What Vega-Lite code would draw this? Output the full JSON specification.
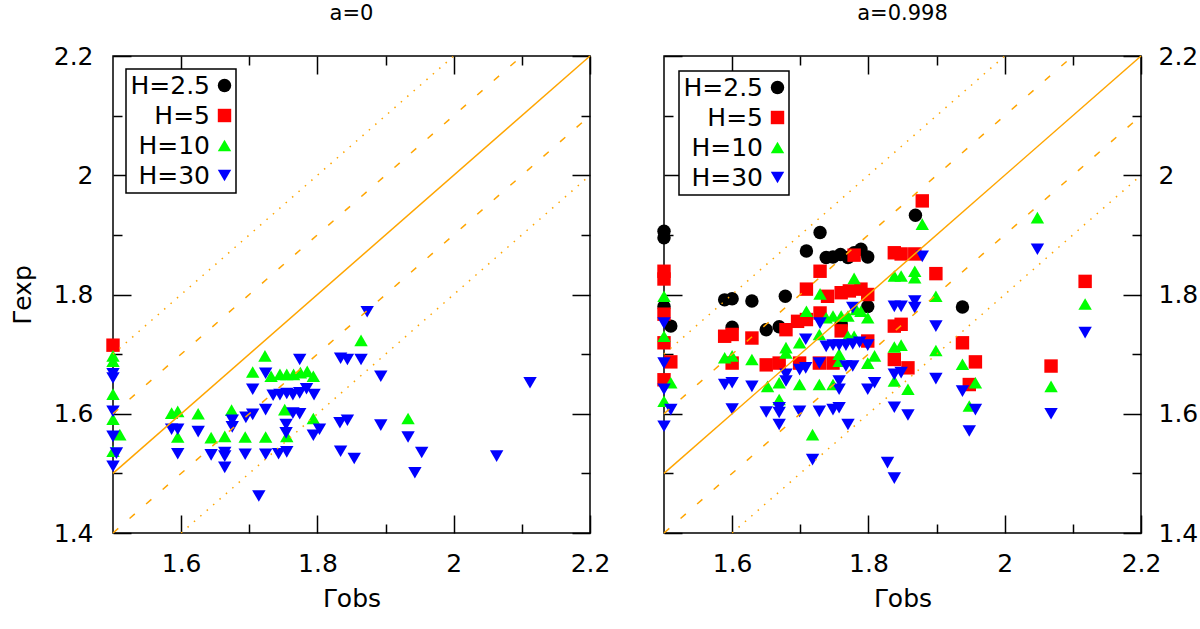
{
  "$schema": "https://vega.github.io/schema/vega-lite/v6.json",
  "background": "white",
  "padding": {"left": 9, "top": 2, "right": 0, "bottom": 0},
  "spacing": 45,
  "datasets": {
    "pts": [
      {"p": 0, "H": "H=5", "x": 1.5, "y": 1.715},
      {"p": 0, "H": "H=10", "x": 1.5, "y": 1.697},
      {"p": 0, "H": "H=10", "x": 1.5, "y": 1.688},
      {"p": 0, "H": "H=10", "x": 1.5, "y": 1.633},
      {"p": 0, "H": "H=10", "x": 1.5, "y": 1.591},
      {"p": 0, "H": "H=10", "x": 1.5, "y": 1.537},
      {"p": 0, "H": "H=10", "x": 1.51, "y": 1.565},
      {"p": 0, "H": "H=10", "x": 1.723, "y": 1.697},
      {"p": 0, "H": "H=10", "x": 1.705, "y": 1.67},
      {"p": 0, "H": "H=10", "x": 1.732, "y": 1.663},
      {"p": 0, "H": "H=10", "x": 1.745, "y": 1.666},
      {"p": 0, "H": "H=10", "x": 1.755, "y": 1.666},
      {"p": 0, "H": "H=10", "x": 1.765, "y": 1.666},
      {"p": 0, "H": "H=10", "x": 1.775, "y": 1.669},
      {"p": 0, "H": "H=10", "x": 1.785, "y": 1.671},
      {"p": 0, "H": "H=10", "x": 1.794, "y": 1.663},
      {"p": 0, "H": "H=10", "x": 1.586, "y": 1.601},
      {"p": 0, "H": "H=10", "x": 1.595, "y": 1.604},
      {"p": 0, "H": "H=10", "x": 1.625, "y": 1.6},
      {"p": 0, "H": "H=10", "x": 1.674, "y": 1.606},
      {"p": 0, "H": "H=10", "x": 1.752, "y": 1.607},
      {"p": 0, "H": "H=10", "x": 1.794, "y": 1.592},
      {"p": 0, "H": "H=10", "x": 1.595, "y": 1.561},
      {"p": 0, "H": "H=10", "x": 1.644, "y": 1.56},
      {"p": 0, "H": "H=10", "x": 1.664, "y": 1.562},
      {"p": 0, "H": "H=10", "x": 1.694, "y": 1.561},
      {"p": 0, "H": "H=10", "x": 1.724, "y": 1.561},
      {"p": 0, "H": "H=10", "x": 1.755, "y": 1.562},
      {"p": 0, "H": "H=10", "x": 1.864, "y": 1.723},
      {"p": 0, "H": "H=10", "x": 1.933, "y": 1.592},
      {"p": 0, "H": "H=30", "x": 1.5, "y": 1.667},
      {"p": 0, "H": "H=30", "x": 1.5, "y": 1.66},
      {"p": 0, "H": "H=30", "x": 1.5, "y": 1.604},
      {"p": 0, "H": "H=30", "x": 1.5, "y": 1.562},
      {"p": 0, "H": "H=30", "x": 1.5, "y": 1.512},
      {"p": 0, "H": "H=30", "x": 1.505, "y": 1.534},
      {"p": 0, "H": "H=30", "x": 1.774, "y": 1.691},
      {"p": 0, "H": "H=30", "x": 1.724, "y": 1.668},
      {"p": 0, "H": "H=30", "x": 1.705, "y": 1.641},
      {"p": 0, "H": "H=30", "x": 1.735, "y": 1.631},
      {"p": 0, "H": "H=30", "x": 1.745, "y": 1.632},
      {"p": 0, "H": "H=30", "x": 1.755, "y": 1.634},
      {"p": 0, "H": "H=30", "x": 1.764, "y": 1.632},
      {"p": 0, "H": "H=30", "x": 1.774, "y": 1.635},
      {"p": 0, "H": "H=30", "x": 1.784, "y": 1.642},
      {"p": 0, "H": "H=30", "x": 1.795, "y": 1.632},
      {"p": 0, "H": "H=30", "x": 1.724, "y": 1.607},
      {"p": 0, "H": "H=30", "x": 1.705, "y": 1.599},
      {"p": 0, "H": "H=30", "x": 1.695, "y": 1.594},
      {"p": 0, "H": "H=30", "x": 1.675, "y": 1.589},
      {"p": 0, "H": "H=30", "x": 1.675, "y": 1.578},
      {"p": 0, "H": "H=30", "x": 1.764, "y": 1.601},
      {"p": 0, "H": "H=30", "x": 1.774, "y": 1.6},
      {"p": 0, "H": "H=30", "x": 1.586, "y": 1.574},
      {"p": 0, "H": "H=30", "x": 1.595, "y": 1.574},
      {"p": 0, "H": "H=30", "x": 1.625, "y": 1.57},
      {"p": 0, "H": "H=30", "x": 1.754, "y": 1.582},
      {"p": 0, "H": "H=30", "x": 1.754, "y": 1.568},
      {"p": 0, "H": "H=30", "x": 1.803, "y": 1.574},
      {"p": 0, "H": "H=30", "x": 1.794, "y": 1.564},
      {"p": 0, "H": "H=30", "x": 1.595, "y": 1.533},
      {"p": 0, "H": "H=30", "x": 1.644, "y": 1.531},
      {"p": 0, "H": "H=30", "x": 1.664, "y": 1.535},
      {"p": 0, "H": "H=30", "x": 1.664, "y": 1.529},
      {"p": 0, "H": "H=30", "x": 1.694, "y": 1.532},
      {"p": 0, "H": "H=30", "x": 1.724, "y": 1.532},
      {"p": 0, "H": "H=30", "x": 1.743, "y": 1.533},
      {"p": 0, "H": "H=30", "x": 1.755, "y": 1.536},
      {"p": 0, "H": "H=30", "x": 1.664, "y": 1.51},
      {"p": 0, "H": "H=30", "x": 1.714, "y": 1.462},
      {"p": 0, "H": "H=30", "x": 1.834, "y": 1.693},
      {"p": 0, "H": "H=30", "x": 1.844, "y": 1.691},
      {"p": 0, "H": "H=30", "x": 1.864, "y": 1.691},
      {"p": 0, "H": "H=30", "x": 1.873, "y": 1.771},
      {"p": 0, "H": "H=30", "x": 1.893, "y": 1.663},
      {"p": 0, "H": "H=30", "x": 2.112, "y": 1.652},
      {"p": 0, "H": "H=30", "x": 1.833, "y": 1.585},
      {"p": 0, "H": "H=30", "x": 1.844, "y": 1.589},
      {"p": 0, "H": "H=30", "x": 1.893, "y": 1.581},
      {"p": 0, "H": "H=30", "x": 1.933, "y": 1.561},
      {"p": 0, "H": "H=30", "x": 1.834, "y": 1.537},
      {"p": 0, "H": "H=30", "x": 1.854, "y": 1.525},
      {"p": 0, "H": "H=30", "x": 1.953, "y": 1.535},
      {"p": 0, "H": "H=30", "x": 1.943, "y": 1.501},
      {"p": 0, "H": "H=30", "x": 2.063, "y": 1.529},
      {"p": 1, "H": "H=2.5", "x": 1.5, "y": 1.906},
      {"p": 1, "H": "H=2.5", "x": 1.5, "y": 1.895},
      {"p": 1, "H": "H=2.5", "x": 1.5, "y": 1.78},
      {"p": 1, "H": "H=2.5", "x": 1.51, "y": 1.747},
      {"p": 1, "H": "H=2.5", "x": 1.589, "y": 1.791},
      {"p": 1, "H": "H=2.5", "x": 1.6, "y": 1.793},
      {"p": 1, "H": "H=2.5", "x": 1.6, "y": 1.745},
      {"p": 1, "H": "H=2.5", "x": 1.629, "y": 1.789},
      {"p": 1, "H": "H=2.5", "x": 1.65, "y": 1.741},
      {"p": 1, "H": "H=2.5", "x": 1.669, "y": 1.746},
      {"p": 1, "H": "H=2.5", "x": 1.678, "y": 1.797},
      {"p": 1, "H": "H=2.5", "x": 1.729, "y": 1.904},
      {"p": 1, "H": "H=2.5", "x": 1.709, "y": 1.873},
      {"p": 1, "H": "H=2.5", "x": 1.738, "y": 1.862},
      {"p": 1, "H": "H=2.5", "x": 1.748, "y": 1.863},
      {"p": 1, "H": "H=2.5", "x": 1.759, "y": 1.867},
      {"p": 1, "H": "H=2.5", "x": 1.77, "y": 1.862},
      {"p": 1, "H": "H=2.5", "x": 1.779, "y": 1.87},
      {"p": 1, "H": "H=2.5", "x": 1.789, "y": 1.876},
      {"p": 1, "H": "H=2.5", "x": 1.799, "y": 1.863},
      {"p": 1, "H": "H=2.5", "x": 1.799, "y": 1.78},
      {"p": 1, "H": "H=2.5", "x": 1.76, "y": 1.75},
      {"p": 1, "H": "H=2.5", "x": 1.869, "y": 1.933},
      {"p": 1, "H": "H=2.5", "x": 1.938, "y": 1.779},
      {"p": 1, "H": "H=5", "x": 1.5, "y": 1.839},
      {"p": 1, "H": "H=5", "x": 1.5, "y": 1.826},
      {"p": 1, "H": "H=5", "x": 1.5, "y": 1.767},
      {"p": 1, "H": "H=5", "x": 1.5, "y": 1.719},
      {"p": 1, "H": "H=5", "x": 1.5, "y": 1.657},
      {"p": 1, "H": "H=5", "x": 1.51, "y": 1.687},
      {"p": 1, "H": "H=5", "x": 1.589, "y": 1.73},
      {"p": 1, "H": "H=5", "x": 1.6, "y": 1.733},
      {"p": 1, "H": "H=5", "x": 1.6, "y": 1.685},
      {"p": 1, "H": "H=5", "x": 1.629, "y": 1.727},
      {"p": 1, "H": "H=5", "x": 1.65, "y": 1.682},
      {"p": 1, "H": "H=5", "x": 1.669, "y": 1.685},
      {"p": 1, "H": "H=5", "x": 1.679, "y": 1.741},
      {"p": 1, "H": "H=5", "x": 1.779, "y": 1.866},
      {"p": 1, "H": "H=5", "x": 1.729, "y": 1.839},
      {"p": 1, "H": "H=5", "x": 1.709, "y": 1.809},
      {"p": 1, "H": "H=5", "x": 1.74, "y": 1.797},
      {"p": 1, "H": "H=5", "x": 1.76, "y": 1.803},
      {"p": 1, "H": "H=5", "x": 1.772, "y": 1.806},
      {"p": 1, "H": "H=5", "x": 1.789, "y": 1.809},
      {"p": 1, "H": "H=5", "x": 1.799, "y": 1.8},
      {"p": 1, "H": "H=5", "x": 1.729, "y": 1.769},
      {"p": 1, "H": "H=5", "x": 1.709, "y": 1.758},
      {"p": 1, "H": "H=5", "x": 1.696, "y": 1.755},
      {"p": 1, "H": "H=5", "x": 1.76, "y": 1.739},
      {"p": 1, "H": "H=5", "x": 1.699, "y": 1.685},
      {"p": 1, "H": "H=5", "x": 1.728, "y": 1.685},
      {"p": 1, "H": "H=5", "x": 1.748, "y": 1.685},
      {"p": 1, "H": "H=5", "x": 1.799, "y": 1.722},
      {"p": 1, "H": "H=5", "x": 1.879, "y": 1.957},
      {"p": 1, "H": "H=5", "x": 1.838, "y": 1.87},
      {"p": 1, "H": "H=5", "x": 1.848, "y": 1.868},
      {"p": 1, "H": "H=5", "x": 1.868, "y": 1.868},
      {"p": 1, "H": "H=5", "x": 1.899, "y": 1.835},
      {"p": 1, "H": "H=5", "x": 1.838, "y": 1.747},
      {"p": 1, "H": "H=5", "x": 1.848, "y": 1.75},
      {"p": 1, "H": "H=5", "x": 1.938, "y": 1.719},
      {"p": 1, "H": "H=5", "x": 1.838, "y": 1.691},
      {"p": 1, "H": "H=5", "x": 1.858, "y": 1.677},
      {"p": 1, "H": "H=5", "x": 1.957, "y": 1.687},
      {"p": 1, "H": "H=5", "x": 1.948, "y": 1.649},
      {"p": 1, "H": "H=5", "x": 2.118, "y": 1.822},
      {"p": 1, "H": "H=5", "x": 2.068, "y": 1.68},
      {"p": 1, "H": "H=10", "x": 1.5, "y": 1.797},
      {"p": 1, "H": "H=10", "x": 1.5, "y": 1.73},
      {"p": 1, "H": "H=10", "x": 1.5, "y": 1.621},
      {"p": 1, "H": "H=10", "x": 1.51, "y": 1.652},
      {"p": 1, "H": "H=10", "x": 1.589, "y": 1.694},
      {"p": 1, "H": "H=10", "x": 1.6, "y": 1.697},
      {"p": 1, "H": "H=10", "x": 1.629, "y": 1.691},
      {"p": 1, "H": "H=10", "x": 1.652, "y": 1.646},
      {"p": 1, "H": "H=10", "x": 1.729, "y": 1.801},
      {"p": 1, "H": "H=10", "x": 1.779, "y": 1.827},
      {"p": 1, "H": "H=10", "x": 1.709, "y": 1.772},
      {"p": 1, "H": "H=10", "x": 1.738, "y": 1.761},
      {"p": 1, "H": "H=10", "x": 1.748, "y": 1.764},
      {"p": 1, "H": "H=10", "x": 1.76, "y": 1.764},
      {"p": 1, "H": "H=10", "x": 1.77, "y": 1.764},
      {"p": 1, "H": "H=10", "x": 1.782, "y": 1.775},
      {"p": 1, "H": "H=10", "x": 1.789, "y": 1.772},
      {"p": 1, "H": "H=10", "x": 1.799, "y": 1.761},
      {"p": 1, "H": "H=10", "x": 1.679, "y": 1.711},
      {"p": 1, "H": "H=10", "x": 1.679, "y": 1.702},
      {"p": 1, "H": "H=10", "x": 1.669, "y": 1.652},
      {"p": 1, "H": "H=10", "x": 1.669, "y": 1.624},
      {"p": 1, "H": "H=10", "x": 1.699, "y": 1.719},
      {"p": 1, "H": "H=10", "x": 1.699, "y": 1.649},
      {"p": 1, "H": "H=10", "x": 1.728, "y": 1.733},
      {"p": 1, "H": "H=10", "x": 1.728, "y": 1.649},
      {"p": 1, "H": "H=10", "x": 1.718, "y": 1.565},
      {"p": 1, "H": "H=10", "x": 1.77, "y": 1.73},
      {"p": 1, "H": "H=10", "x": 1.779, "y": 1.73},
      {"p": 1, "H": "H=10", "x": 1.757, "y": 1.7},
      {"p": 1, "H": "H=10", "x": 1.757, "y": 1.688},
      {"p": 1, "H": "H=10", "x": 1.799, "y": 1.685},
      {"p": 1, "H": "H=10", "x": 1.809, "y": 1.697},
      {"p": 1, "H": "H=10", "x": 1.748, "y": 1.649},
      {"p": 1, "H": "H=10", "x": 1.879, "y": 1.918},
      {"p": 1, "H": "H=10", "x": 1.838, "y": 1.831},
      {"p": 1, "H": "H=10", "x": 1.848, "y": 1.831},
      {"p": 1, "H": "H=10", "x": 1.868, "y": 1.839},
      {"p": 1, "H": "H=10", "x": 1.868, "y": 1.828},
      {"p": 1, "H": "H=10", "x": 1.899, "y": 1.797},
      {"p": 1, "H": "H=10", "x": 1.838, "y": 1.712},
      {"p": 1, "H": "H=10", "x": 1.848, "y": 1.715},
      {"p": 1, "H": "H=10", "x": 1.899, "y": 1.706},
      {"p": 1, "H": "H=10", "x": 1.938, "y": 1.683},
      {"p": 1, "H": "H=10", "x": 1.838, "y": 1.655},
      {"p": 1, "H": "H=10", "x": 1.858, "y": 1.641},
      {"p": 1, "H": "H=10", "x": 1.957, "y": 1.652},
      {"p": 1, "H": "H=10", "x": 1.948, "y": 1.613},
      {"p": 1, "H": "H=10", "x": 2.048, "y": 1.929},
      {"p": 1, "H": "H=10", "x": 2.118, "y": 1.784},
      {"p": 1, "H": "H=10", "x": 2.068, "y": 1.646},
      {"p": 1, "H": "H=30", "x": 1.5, "y": 1.752},
      {"p": 1, "H": "H=30", "x": 1.5, "y": 1.685},
      {"p": 1, "H": "H=30", "x": 1.5, "y": 1.641},
      {"p": 1, "H": "H=30", "x": 1.5, "y": 1.579},
      {"p": 1, "H": "H=30", "x": 1.51, "y": 1.607},
      {"p": 1, "H": "H=30", "x": 1.589, "y": 1.649},
      {"p": 1, "H": "H=30", "x": 1.6, "y": 1.652},
      {"p": 1, "H": "H=30", "x": 1.6, "y": 1.608},
      {"p": 1, "H": "H=30", "x": 1.629, "y": 1.646},
      {"p": 1, "H": "H=30", "x": 1.65, "y": 1.603},
      {"p": 1, "H": "H=30", "x": 1.679, "y": 1.666},
      {"p": 1, "H": "H=30", "x": 1.679, "y": 1.655},
      {"p": 1, "H": "H=30", "x": 1.669, "y": 1.61},
      {"p": 1, "H": "H=30", "x": 1.669, "y": 1.602},
      {"p": 1, "H": "H=30", "x": 1.669, "y": 1.582},
      {"p": 1, "H": "H=30", "x": 1.708, "y": 1.725},
      {"p": 1, "H": "H=30", "x": 1.699, "y": 1.674},
      {"p": 1, "H": "H=30", "x": 1.708, "y": 1.677},
      {"p": 1, "H": "H=30", "x": 1.699, "y": 1.604},
      {"p": 1, "H": "H=30", "x": 1.728, "y": 1.685},
      {"p": 1, "H": "H=30", "x": 1.728, "y": 1.604},
      {"p": 1, "H": "H=30", "x": 1.718, "y": 1.523},
      {"p": 1, "H": "H=30", "x": 1.738, "y": 1.713},
      {"p": 1, "H": "H=30", "x": 1.748, "y": 1.715},
      {"p": 1, "H": "H=30", "x": 1.757, "y": 1.715},
      {"p": 1, "H": "H=30", "x": 1.767, "y": 1.715},
      {"p": 1, "H": "H=30", "x": 1.777, "y": 1.717},
      {"p": 1, "H": "H=30", "x": 1.787, "y": 1.72},
      {"p": 1, "H": "H=30", "x": 1.799, "y": 1.715},
      {"p": 1, "H": "H=30", "x": 1.767, "y": 1.68},
      {"p": 1, "H": "H=30", "x": 1.777, "y": 1.68},
      {"p": 1, "H": "H=30", "x": 1.757, "y": 1.655},
      {"p": 1, "H": "H=30", "x": 1.757, "y": 1.641},
      {"p": 1, "H": "H=30", "x": 1.799, "y": 1.641},
      {"p": 1, "H": "H=30", "x": 1.809, "y": 1.652},
      {"p": 1, "H": "H=30", "x": 1.748, "y": 1.607},
      {"p": 1, "H": "H=30", "x": 1.757, "y": 1.61},
      {"p": 1, "H": "H=30", "x": 1.77, "y": 1.582},
      {"p": 1, "H": "H=30", "x": 1.729, "y": 1.752},
      {"p": 1, "H": "H=30", "x": 1.777, "y": 1.778},
      {"p": 1, "H": "H=30", "x": 1.879, "y": 1.864},
      {"p": 1, "H": "H=30", "x": 1.838, "y": 1.78},
      {"p": 1, "H": "H=30", "x": 1.848, "y": 1.78},
      {"p": 1, "H": "H=30", "x": 1.868, "y": 1.789},
      {"p": 1, "H": "H=30", "x": 1.868, "y": 1.778},
      {"p": 1, "H": "H=30", "x": 1.899, "y": 1.747},
      {"p": 1, "H": "H=30", "x": 1.838, "y": 1.666},
      {"p": 1, "H": "H=30", "x": 1.848, "y": 1.669},
      {"p": 1, "H": "H=30", "x": 1.899, "y": 1.659},
      {"p": 1, "H": "H=30", "x": 1.938, "y": 1.638},
      {"p": 1, "H": "H=30", "x": 1.957, "y": 1.607},
      {"p": 1, "H": "H=30", "x": 1.838, "y": 1.611},
      {"p": 1, "H": "H=30", "x": 1.858, "y": 1.598},
      {"p": 1, "H": "H=30", "x": 1.948, "y": 1.571},
      {"p": 1, "H": "H=30", "x": 1.828, "y": 1.518},
      {"p": 1, "H": "H=30", "x": 1.838, "y": 1.492},
      {"p": 1, "H": "H=30", "x": 2.048, "y": 1.876},
      {"p": 1, "H": "H=30", "x": 2.118, "y": 1.736},
      {"p": 1, "H": "H=30", "x": 2.068, "y": 1.6}
    ],
    "refs": [
      {"s": "solid", "l": "a", "x": 1.5, "y": 1.5},
      {"s": "solid", "l": "a", "x": 2.2, "y": 2.2},
      {"s": "dash", "l": "b", "x": 1.5, "y": 1.6},
      {"s": "dash", "l": "b", "x": 2.1, "y": 2.2},
      {"s": "dash", "l": "c", "x": 1.5, "y": 1.4},
      {"s": "dash", "l": "c", "x": 2.2, "y": 2.1},
      {"s": "dot", "l": "d", "x": 1.5, "y": 1.7},
      {"s": "dot", "l": "d", "x": 2.0, "y": 2.2},
      {"s": "dot", "l": "e", "x": 1.6, "y": 1.4},
      {"s": "dot", "l": "e", "x": 2.2, "y": 2.0}
    ]
  },
  "resolve": {"scale": {"color": "independent", "shape": "independent"}},
  "hconcat": [
    {
      "width": 477,
      "height": 477,
      "title": {"text": "a=0", "fontSize": 21, "fontWeight": "normal", "offset": 20},
      "resolve": {"axis": {"x": "independent", "y": "independent"}},
      "layer": [
        {
          "data": {"name": "pts"},
          "transform": [{"filter": "datum.p == 0"}],
          "mark": {"type": "point", "filled": true, "opacity": 1, "size": 180},
          "encoding": {
            "x": {"field": "x", "type": "quantitative", "scale": {"domain": [1.5, 2.2], "nice": false, "zero": false},
              "axis": {"orient": "bottom", "values": [1.6, 1.8, 2, 2.2], "format": "~g", "tickSize": -18, "labelPadding": 36, "title": "Γobs", "titlePadding": 10}},
            "y": {"field": "y", "type": "quantitative", "scale": {"domain": [1.4, 2.2], "nice": false, "zero": false},
              "axis": {"orient": "left", "values": [1.4, 1.6, 1.8, 2, 2.2], "format": "~g", "tickSize": -18, "labelPadding": 38, "title": "Γexp", "titlePadding": 18}},
            "color": {"field": "H", "type": "nominal",
              "scale": {"domain": ["H=2.5", "H=5", "H=10", "H=30"], "range": ["#000000", "#ff0000", "#00ff00", "#0000ff"]},
              "legend": {"title": null, "orient": "top-left", "offset": 13}},
            "shape": {"field": "H", "type": "nominal",
              "scale": {"domain": ["H=2.5", "H=5", "H=10", "H=30"], "range": ["circle", "square", "triangle-up", "triangle-down"]},
              "legend": {"title": null, "orient": "top-left", "offset": 13}}
          }
        },
        {
          "data": {"name": "refs"},
          "transform": [{"filter": "datum.s == 'solid'"}],
          "mark": {"type": "line", "color": "#ffa500", "strokeWidth": 1.5},
          "encoding": {
            "x": {"field": "x", "type": "quantitative", "scale": {"domain": [1.5, 2.2], "nice": false, "zero": false},
              "axis": {"orient": "top", "values": [1.6, 1.8, 2, 2.2], "tickSize": -18, "labels": false, "title": null}},
            "y": {"field": "y", "type": "quantitative", "scale": {"domain": [1.4, 2.2], "nice": false, "zero": false},
              "axis": {"orient": "right", "values": [1.4, 1.6, 1.8, 2, 2.2], "tickSize": -18, "labels": false, "title": null}},
            "detail": {"field": "l"}
          }
        },
        {
          "data": {"name": "refs"},
          "transform": [{"filter": "datum.s == 'dash'"}],
          "mark": {"type": "line", "color": "#ffa500", "strokeWidth": 1.5, "strokeDash": [7, 15]},
          "encoding": {
            "x": {"field": "x", "type": "quantitative", "scale": {"domain": [1.5, 2.2], "nice": false, "zero": false},
              "axis": {"orient": "bottom", "values": [1.7, 1.9, 2.1], "tickSize": -9, "labels": false, "title": null}},
            "y": {"field": "y", "type": "quantitative", "scale": {"domain": [1.4, 2.2], "nice": false, "zero": false},
              "axis": {"orient": "left", "values": [1.5, 1.7, 1.9, 2.1], "tickSize": -9, "labels": false, "title": null}},
            "detail": {"field": "l"}
          }
        },
        {
          "data": {"name": "refs"},
          "transform": [{"filter": "datum.s == 'dot'"}],
          "mark": {"type": "line", "color": "#ffa500", "strokeWidth": 1.5, "strokeDash": [1.5, 7]},
          "encoding": {
            "x": {"field": "x", "type": "quantitative", "scale": {"domain": [1.5, 2.2], "nice": false, "zero": false},
              "axis": {"orient": "top", "values": [1.7, 1.9, 2.1], "tickSize": -9, "labels": false, "title": null}},
            "y": {"field": "y", "type": "quantitative", "scale": {"domain": [1.4, 2.2], "nice": false, "zero": false},
              "axis": {"orient": "right", "values": [1.5, 1.7, 1.9, 2.1], "tickSize": -9, "labels": false, "title": null}},
            "detail": {"field": "l"}
          }
        }
      ]
    },
    {
      "width": 477,
      "height": 477,
      "title": {"text": "a=0.998", "fontSize": 21, "fontWeight": "normal", "offset": 20},
      "resolve": {"axis": {"x": "independent", "y": "independent"}},
      "layer": [
        {
          "data": {"name": "pts"},
          "transform": [{"filter": "datum.p == 1"}],
          "mark": {"type": "point", "filled": true, "opacity": 1, "size": 180},
          "encoding": {
            "x": {"field": "x", "type": "quantitative", "scale": {"domain": [1.5, 2.2], "nice": false, "zero": false},
              "axis": {"orient": "bottom", "values": [1.6, 1.8, 2, 2.2], "format": "~g", "tickSize": -18, "labelPadding": 36, "title": "Γobs", "titlePadding": 10}},
            "y": {"field": "y", "type": "quantitative", "scale": {"domain": [1.4, 2.2], "nice": false, "zero": false},
              "axis": {"orient": "left", "values": [1.4, 1.6, 1.8, 2, 2.2], "tickSize": -18, "labels": false, "title": null}},
            "color": {"field": "H", "type": "nominal",
              "scale": {"domain": ["H=2.5", "H=5", "H=10", "H=30"], "range": ["#000000", "#ff0000", "#00ff00", "#0000ff"]},
              "legend": {"title": null, "orient": "top-left", "offset": 15}},
            "shape": {"field": "H", "type": "nominal",
              "scale": {"domain": ["H=2.5", "H=5", "H=10", "H=30"], "range": ["circle", "square", "triangle-up", "triangle-down"]},
              "legend": {"title": null, "orient": "top-left", "offset": 15}}
          }
        },
        {
          "data": {"name": "refs"},
          "transform": [{"filter": "datum.s == 'solid'"}],
          "mark": {"type": "line", "color": "#ffa500", "strokeWidth": 1.5},
          "encoding": {
            "x": {"field": "x", "type": "quantitative", "scale": {"domain": [1.5, 2.2], "nice": false, "zero": false},
              "axis": {"orient": "top", "values": [1.6, 1.8, 2, 2.2], "tickSize": -18, "labels": false, "title": null}},
            "y": {"field": "y", "type": "quantitative", "scale": {"domain": [1.4, 2.2], "nice": false, "zero": false},
              "axis": {"orient": "right", "values": [1.4, 1.6, 1.8, 2, 2.2], "format": "~g", "tickSize": -18, "labelPadding": 35, "title": null}},
            "detail": {"field": "l"}
          }
        },
        {
          "data": {"name": "refs"},
          "transform": [{"filter": "datum.s == 'dash'"}],
          "mark": {"type": "line", "color": "#ffa500", "strokeWidth": 1.5, "strokeDash": [7, 15]},
          "encoding": {
            "x": {"field": "x", "type": "quantitative", "scale": {"domain": [1.5, 2.2], "nice": false, "zero": false},
              "axis": {"orient": "bottom", "values": [1.7, 1.9, 2.1], "tickSize": -9, "labels": false, "title": null}},
            "y": {"field": "y", "type": "quantitative", "scale": {"domain": [1.4, 2.2], "nice": false, "zero": false},
              "axis": {"orient": "left", "values": [1.5, 1.7, 1.9, 2.1], "tickSize": -9, "labels": false, "title": null}},
            "detail": {"field": "l"}
          }
        },
        {
          "data": {"name": "refs"},
          "transform": [{"filter": "datum.s == 'dot'"}],
          "mark": {"type": "line", "color": "#ffa500", "strokeWidth": 1.5, "strokeDash": [1.5, 7]},
          "encoding": {
            "x": {"field": "x", "type": "quantitative", "scale": {"domain": [1.5, 2.2], "nice": false, "zero": false},
              "axis": {"orient": "top", "values": [1.7, 1.9, 2.1], "tickSize": -9, "labels": false, "title": null}},
            "y": {"field": "y", "type": "quantitative", "scale": {"domain": [1.4, 2.2], "nice": false, "zero": false},
              "axis": {"orient": "right", "values": [1.5, 1.7, 1.9, 2.1], "tickSize": -9, "labels": false, "title": null}},
            "detail": {"field": "l"}
          }
        }
      ]
    }
  ],
  "config": {
    "font": "DejaVu Sans",
    "view": {"stroke": "black", "strokeWidth": 1.5},
    "title": {"font": "DejaVu Sans", "color": "black", "anchor": "middle"},
    "axis": {
      "domain": false, "grid": false, "labelFont": "DejaVu Sans", "labelFontSize": 25, "labelColor": "black",
      "labelFlush": false, "labelOverlap": false, "tickColor": "black", "tickWidth": 1.5,
      "titleFont": "DejaVu Sans", "titleFontSize": 25, "titleFontWeight": "normal", "titleColor": "black"
    },
    "legend": {
      "labelFont": "DejaVu Sans", "labelFontSize": 25, "labelColor": "black", "labelLimit": 300,
      "labelAlign": "right", "labelOffset": -27, "symbolOffset": 82,
      "strokeColor": "black", "strokeWidth": 1.5, "fillColor": "white", "padding": 4,
      "symbolSize": 180, "symbolStrokeWidth": 0, "symbolOpacity": 1, "rowPadding": 4
    }
  }
}
